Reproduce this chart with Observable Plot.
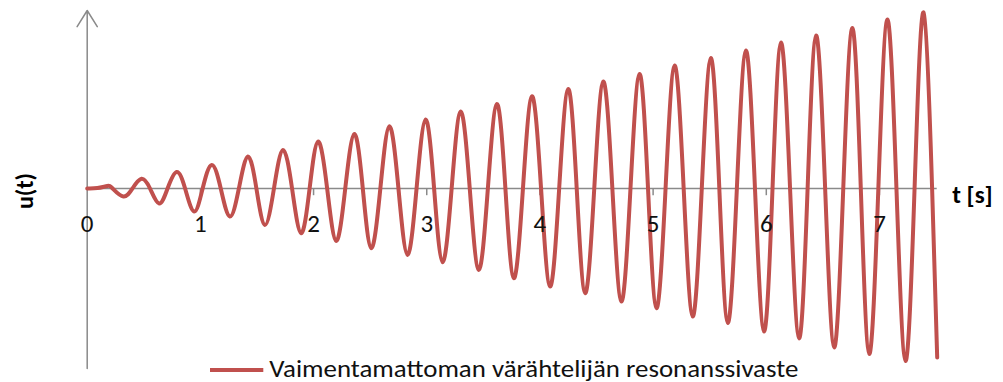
<!DOCTYPE html>
<html><head><meta charset="utf-8">
<script src="https://cdn.jsdelivr.net/npm/d3@7"></script>
<script src="https://cdn.jsdelivr.net/npm/@observablehq/plot@0.6"></script>
<style>
body{margin:0;background:#fff;}
#chart{position:relative;width:1003px;height:382px;}
#legend{position:absolute;left:0;top:352px;}
</style></head><body><div id="chart"></div>
<script>
const seriesName = "Vaimentamattoman värähtelijän resonanssivaste";
const xLabel = "t [s]";
const yLabel = "u(t)";
const tickValues = [1, 2, 3, 4, 5, 6, 7];
const tickLabelValues = [0, 1, 2, 3, 4, 5, 6, 7];
const xDomain = [0, 7.51];
const yDomain = [-18.0, 17.8];

// time (s) of extrema and zero crossings
const tValues = [
  0.00, 0.09, 0.177, 0.225, 0.32, 0.40, 0.48, 0.555, 0.635, 0.71,
  0.79, 0.865, 0.945, 1.02, 1.10, 1.18, 1.26, 1.34, 1.42, 1.495,
  1.57, 1.65, 1.73, 1.81, 1.89, 1.965, 2.04, 2.12, 2.20, 2.28,
  2.36, 2.435, 2.51, 2.59, 2.67, 2.75, 2.83, 2.91, 2.99, 3.065,
  3.14, 3.22, 3.30, 3.38, 3.46, 3.54, 3.62, 3.695, 3.77, 3.85,
  3.93, 4.01, 4.09, 4.17, 4.25, 4.325, 4.40, 4.48, 4.56, 4.64,
  4.72, 4.80, 4.88, 4.955, 5.03, 5.11, 5.19, 5.27, 5.35, 5.43,
  5.51, 5.585, 5.66, 5.74, 5.82, 5.90, 5.98, 6.055, 6.13, 6.21,
  6.29, 6.365, 6.44, 6.52, 6.60, 6.68, 6.76, 6.835, 6.91, 6.99,
  7.07, 7.15, 7.23, 7.31, 7.39, 7.465, 7.51
];
// u(t) (arbitrary units) at those times
const uValues = [
  0, 0.04, 0.25, 0, -0.8, 0, 0.97, 0, -1.5, 0,
  1.65, 0, -2.3, 0, 2.36, 0, -2.8, 0, 3.2, 0,
  -3.64, 0, 3.86, 0, -4.47, 0, 4.7, 0, -5.24, 0,
  5.46, 0, -5.97, 0, 6.23, 0, -6.64, 0, 6.9, 0,
  -7.37, 0, 7.7, 0, -8.14, 0, 8.46, 0, -8.97, 0,
  9.23, 0, -9.8, 0, 9.96, 0, -10.47, 0, 10.7, 0,
  -11.3, 0, 11.46, 0, -11.97, 0, 12.3, 0, -12.8, 0,
  13.05, 0, -13.45, 0, 13.8, 0, -14.3, 0, 14.6, 0,
  -15.0, 0, 15.3, 0, -15.9, 0, 16.05, 0, -16.55, 0,
  16.9, 0, -17.25, 0, 17.6, 0, -16.9
];

const lineColor = "#c0504d";
const axisColor = "#8a8a8a";
const fontFamily = "Carlito, Calibri, Lato, 'Open Sans', sans-serif";

const data = tValues.map((t, i) => ({t, u: uValues[i]}));

const plot = Plot.plot({
  width: 1003,
  height: 382,
  marginLeft: 86.7,
  marginRight: 66.3,
  marginTop: 10,
  marginBottom: 14,
  x: {domain: xDomain, axis: null},
  y: {domain: yDomain, axis: null},
  style: {fontFamily, background: "#fff", overflow: "visible"},
  marks: [
    // horizontal axis line
    Plot.ruleY([0], {x1: xDomain[0], x2: xDomain[1], stroke: axisColor, strokeWidth: 1.5}),
    // tick marks below axis
    Plot.ruleX(tickValues, {x: d => d, y1: 0, y2: -0.72, stroke: axisColor, strokeWidth: 1.5}),
    // vertical axis with arrow
    Plot.arrow([{x: 0, y1: yDomain[0], y2: yDomain[1]}], {
      x1: "x", x2: "x", y1: "y1", y2: "y2",
      stroke: axisColor, strokeWidth: 1.5, headLength: 19, headAngle: 64
    }),
    // the response curve
    Plot.line(data, {
      x: "t", y: "u", curve: "natural", stroke: lineColor, strokeWidth: 4,
      strokeLinejoin: "round"
    }),
    // tick labels
    Plot.text(tickLabelValues, {
      x: d => d, y: 0, text: d => String(d), dy: 43, lineAnchor: "bottom",
      fontSize: 25, fill: "#111"
    }),
    // axis titles
    Plot.text([xLabel], {
      x: xDomain[1], y: 0, text: d => d, dx: 15, dy: 14, textAnchor: "start",
      lineAnchor: "bottom", fontSize: 25, fontWeight: "bold", fill: "#000"
    }),
    Plot.text([yLabel], {
      x: 0, y: 0, text: d => d, dx: -61.7, dy: 2.5, rotate: -90,
      fontSize: 24, fontWeight: "bold", fill: "#000"
    })
  ]
});

const chart = document.getElementById("chart");
chart.appendChild(plot);

// legend below the plot area
const legend = d3.select(chart).append("svg")
  .attr("id", "legend")
  .attr("width", 1003)
  .attr("height", 30);
legend.append("line")
  .attr("x1", 210).attr("x2", 263.3)
  .attr("y1", 18).attr("y2", 18)
  .attr("stroke", lineColor).attr("stroke-width", 4);
const lt = legend.append("text")
  .attr("x", 269.3).attr("y", 24.7)
  .attr("font-family", fontFamily)
  .attr("font-size", 24)
  .attr("fill", "#111")
  .text(seriesName);
const w = lt.node().getComputedTextLength();
if (Math.abs(w - 529) > 4) {
  lt.attr("textLength", 529).attr("lengthAdjust", "spacingAndGlyphs");
}
</script></body></html>
